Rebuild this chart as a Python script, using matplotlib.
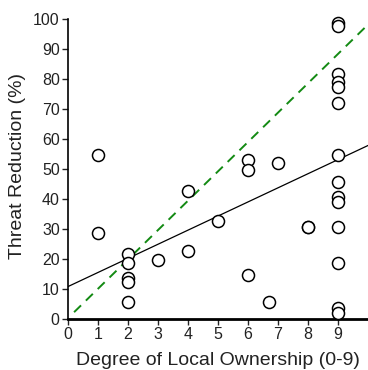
import matplotlib

matplotlib.use("Agg")
import matplotlib.pyplot as plt
import numpy as np

plt.rcParams["font.family"] = ["Liberation Sans", "DejaVu Sans"]

# ownership score vs. threat reduction, one circle per site
ownership = [1, 1, 2, 2, 2, 2, 2, 3, 4, 4, 5, 6, 6, 6, 6.7, 7, 8, 8,
             9, 9, 9, 9, 9, 9, 9, 9, 9, 9, 9, 9, 9, 9]
reduction = [54.7, 28.8, 21.6, 18.8, 13.6, 12.4, 5.6, 19.8, 42.8, 22.7, 32.8,
             53, 49.7, 14.7, 5.6, 52, 30.6, 30.8,
             98.6, 97.7, 81.7, 79.1, 77.4, 71.8, 54.7, 45.7, 40.6, 38.9,
             30.6, 18.8, 3.8, 1.9]

# fitted regression (solid) and 1:1-style reference line (dashed)
fit_intercept, fit_slope = 10.8, 4.7
ref_intercept, ref_slope = 0.3, 9.78
ref_start = 0.2

xticks = list(range(0, 10))
yticks = list(range(0, 101, 10))

fig = plt.figure(figsize=(3.68, 3.70), dpi=100)
ax = fig.add_axes([0.185, 0.138, 0.815, 0.811])

xs = np.array([0, 10])
ax.plot(xs, fit_intercept + fit_slope * xs, color="black", lw=0.9, zorder=2)
xr = np.array([ref_start, 10])
ax.plot(xr, ref_intercept + ref_slope * xr, color="#138a13", lw=1.4,
        ls=(0, (5, 3.5)), zorder=2)

ax.scatter(ownership, reduction, s=75, facecolors="white", edgecolors="black",
           linewidths=1.1, zorder=3, clip_on=False)

ax.set_xlim(0, 10)
ax.set_ylim(0, 100)
ax.set_xticks(xticks)
ax.set_yticks(yticks)
ax.tick_params(labelsize=11.5, length=4, width=1, direction="out", pad=2,
               colors="#222222")
ax.spines["top"].set_visible(False)
ax.spines["right"].set_visible(False)
ax.spines["left"].set_linewidth(1.2)
ax.spines["bottom"].set_linewidth(2)

ax.set_xlabel("Degree of Local Ownership (0-9)", fontsize=14, color="#222222")
ax.set_ylabel("Threat Reduction (%)", fontsize=14, color="#222222")
ax.xaxis.set_label_coords(0.5, -0.11)
ax.yaxis.set_label_coords(-0.14, 0.51)

fig.savefig("out.png", dpi=100)
plt.close(fig)
